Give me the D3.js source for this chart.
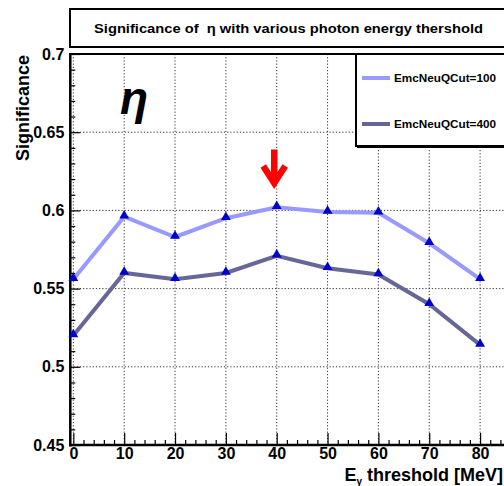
<!DOCTYPE html>
<html>
<head>
  <meta charset='utf-8'>
  <script src="https://cdn.jsdelivr.net/npm/d3@7"></script>
  <style>
    body { margin: 0; background: #fff; }
    text { font-family: "Liberation Sans", Arial, sans-serif; font-weight: bold; }
  </style>
</head>
<body>
  <div id="container"></div>
  <script type="text/javascript">

    // data
    var thresholds = [0, 10, 20, 30, 40, 50, 60, 70, 80];
    var cut100 = [0.556, 0.596, 0.583, 0.595, 0.602, 0.599, 0.5985, 0.579, 0.556];
    var cut400 = [0.520, 0.560, 0.556, 0.560, 0.571, 0.563, 0.559, 0.540, 0.514];
    var seriesNames = ["EmcNeuQCut=100", "EmcNeuQCut=400"];
    var seriesColors = ["#9999ff", "#666699"];
    var xTicks = [0, 10, 20, 30, 40, 50, 60, 70, 80];
    var yTicks = [0.45, 0.5, 0.55, 0.6, 0.65, 0.7];
    var yTickLabels = ["0.45", "0.5", "0.55", "0.6", "0.65", "0.7"];
    var titleText = "Significance of \u00a0\u03b7 with various photon energy thershold";
    var best = { x: 40, from: 0.639, to: 0.615 };

    var W = 504, H = 486;
    var svg = d3.select("#container").append("svg")
        .attr("width", W).attr("height", H);

    var x = d3.scaleLinear().domain([-0.6, 85]).range([70.3, 505.5]);
    var y = d3.scaleLinear().domain([0.45, 0.7]).range([445, 54]);

    // grid
    var grid = svg.append("g");
    grid.selectAll(".vg").data(xTicks).enter().append("line")
        .attr("x1", function(d){ return x(d); }).attr("x2", function(d){ return x(d); })
        .attr("y1", y(0.7)).attr("y2", y(0.45))
        .attr("stroke", "#333").attr("stroke-width", 1).attr("stroke-dasharray", "1.2,2");
    grid.selectAll(".hg").data(yTicks.slice(1, -1)).enter().append("line")
        .attr("x1", x(-0.6)).attr("x2", W)
        .attr("y1", function(d){ return y(d); }).attr("y2", function(d){ return y(d); })
        .attr("stroke", "#333").attr("stroke-width", 1).attr("stroke-dasharray", "1.2,2");

    // axes (ticks pointing inward)
    var yMinor = d3.range(0.46, 0.7, 0.01).filter(function(v){
        return Math.abs(v * 20 - Math.round(v * 20)) > 1e-6; });
    svg.append("g").attr("transform", "translate(" + x(-0.6) + ",0)")
        .call(d3.axisLeft(y).tickValues(yMinor).tickSize(-5).tickFormat(""))
        .call(function(g){ g.select(".domain").remove(); });
    var yAxis = svg.append("g").attr("transform", "translate(" + x(-0.6) + ",0)")
        .call(d3.axisLeft(y).tickValues(yTicks).tickSize(-10).tickPadding(6)
            .tickFormat(function(d, i){ return yTickLabels[i]; }));
    yAxis.select(".domain").remove();
    yAxis.selectAll("text").attr("font-size", 16).attr("font-family", "Liberation Sans")
        .attr("font-weight", "bold").attr("fill", "#000");

    var xMinor = d3.range(0, 86, 2).filter(function(v){ return v % 10 !== 0; });
    svg.append("g").attr("transform", "translate(0," + y(0.45) + ")")
        .call(d3.axisBottom(x).tickValues(xMinor).tickSize(-5).tickFormat(""))
        .call(function(g){ g.select(".domain").remove(); });
    var xAxis = svg.append("g").attr("transform", "translate(0," + y(0.45) + ")")
        .call(d3.axisBottom(x).tickValues(xTicks).tickSize(-12).tickPadding(3));
    xAxis.select(".domain").remove();
    xAxis.selectAll("text").attr("font-size", 16).attr("font-family", "Liberation Sans")
        .attr("font-weight", "bold").attr("fill", "#000");
    svg.selectAll(".tick line").attr("stroke", "#000").attr("stroke-width", 1.2);

    // frame
    svg.append("line").attr("x1", x(-0.6)).attr("x2", x(-0.6))
        .attr("y1", y(0.7) - 1).attr("y2", y(0.45) + 1.5)
        .attr("stroke", "#000").attr("stroke-width", 2.5);
    svg.append("line").attr("x1", x(-0.6) - 1).attr("x2", W)
        .attr("y1", y(0.45)).attr("y2", y(0.45))
        .attr("stroke", "#000").attr("stroke-width", 2.5);
    svg.append("line").attr("x1", x(-0.6) - 1).attr("x2", W)
        .attr("y1", y(0.7)).attr("y2", y(0.7))
        .attr("stroke", "#000").attr("stroke-width", 2);

    // series
    var line = d3.line()
        .x(function(d, i){ return x(thresholds[i]); })
        .y(function(d){ return y(d); });
    [cut100, cut400].forEach(function(vals, k) {
        svg.append("path").datum(vals).attr("d", line)
            .attr("fill", "none").attr("stroke", seriesColors[k]).attr("stroke-width", 4);
    });
    var tri = d3.symbol().type(d3.symbolTriangle).size(42);
    [cut100, cut400].forEach(function(vals) {
        svg.selectAll(null).data(vals).enter().append("path")
            .attr("d", tri)
            .attr("transform", function(d, i){
                return "translate(" + x(thresholds[i]) + "," + (y(d) - 1) + ")"; })
            .attr("fill", "#0000cc");
    });

    // red arrow on the best point
    var ax = x(best.x) - 2.5, ay0 = y(best.from), ay1 = y(best.to);
    svg.append("path")
        .attr("d", "M" + ax + "," + ay0 + "L" + ax + "," + (ay1 - 4) +
                   "M" + (ax - 11) + "," + (ay1 - 21) + "L" + ax + "," + (ay1 - 4) +
                   "L" + (ax + 11) + "," + (ay1 - 21))
        .attr("fill", "none").attr("stroke", "#ff0000").attr("stroke-width", 6.5)
        .attr("stroke-linejoin", "miter");

    // big eta
    svg.append("text").attr("x", 120).attr("y", 114)
        .attr("font-family", "Liberation Serif").attr("font-style", "italic")
        .attr("font-weight", "bold").attr("font-size", 46).text("\u03b7");

    // title box
    svg.append("rect").attr("x", 70).attr("y", 9).attr("width", 480).attr("height", 38)
        .attr("fill", "#fff").attr("stroke", "#000").attr("stroke-width", 2);
    svg.append("text").attr("x", 94).attr("y", 33)
        .attr("textLength", 389).attr("lengthAdjust", "spacingAndGlyphs")
        .attr("font-size", 13.5).text(titleText);

    // legend
    svg.append("rect").attr("x", 356).attr("y", 54).attr("width", 200).attr("height", 92)
        .attr("fill", "#fff").attr("stroke", "#000").attr("stroke-width", 2);
    svg.append("line").attr("x1", 357).attr("x2", W).attr("y1", 147).attr("y2", 147)
        .attr("stroke", "#000").attr("stroke-width", 2);
    var legendY = [78, 124];
    seriesNames.forEach(function(name, k) {
        svg.append("line").attr("x1", 362).attr("x2", 390)
            .attr("y1", legendY[k]).attr("y2", legendY[k])
            .attr("stroke", seriesColors[k]).attr("stroke-width", 4);
        svg.append("text").attr("x", 394).attr("y", legendY[k] + 4)
            .attr("textLength", 102).attr("lengthAdjust", "spacingAndGlyphs")
            .attr("font-size", 11.5).text(name);
    });

    // axis titles
    svg.append("text").attr("transform", "translate(29,55) rotate(-90)")
        .attr("text-anchor", "end").attr("font-size", 18).text("Significance");
    var xt = svg.append("text").attr("x", 503).attr("y", 481)
        .attr("text-anchor", "end").attr("font-size", 18);
    xt.append("tspan").text("E");
    xt.append("tspan").attr("font-size", 10).attr("dy", 4).text("\u03b3");
    xt.append("tspan").attr("dy", -4).text(" threshold [MeV]");

  </script>
</body>
</html>
